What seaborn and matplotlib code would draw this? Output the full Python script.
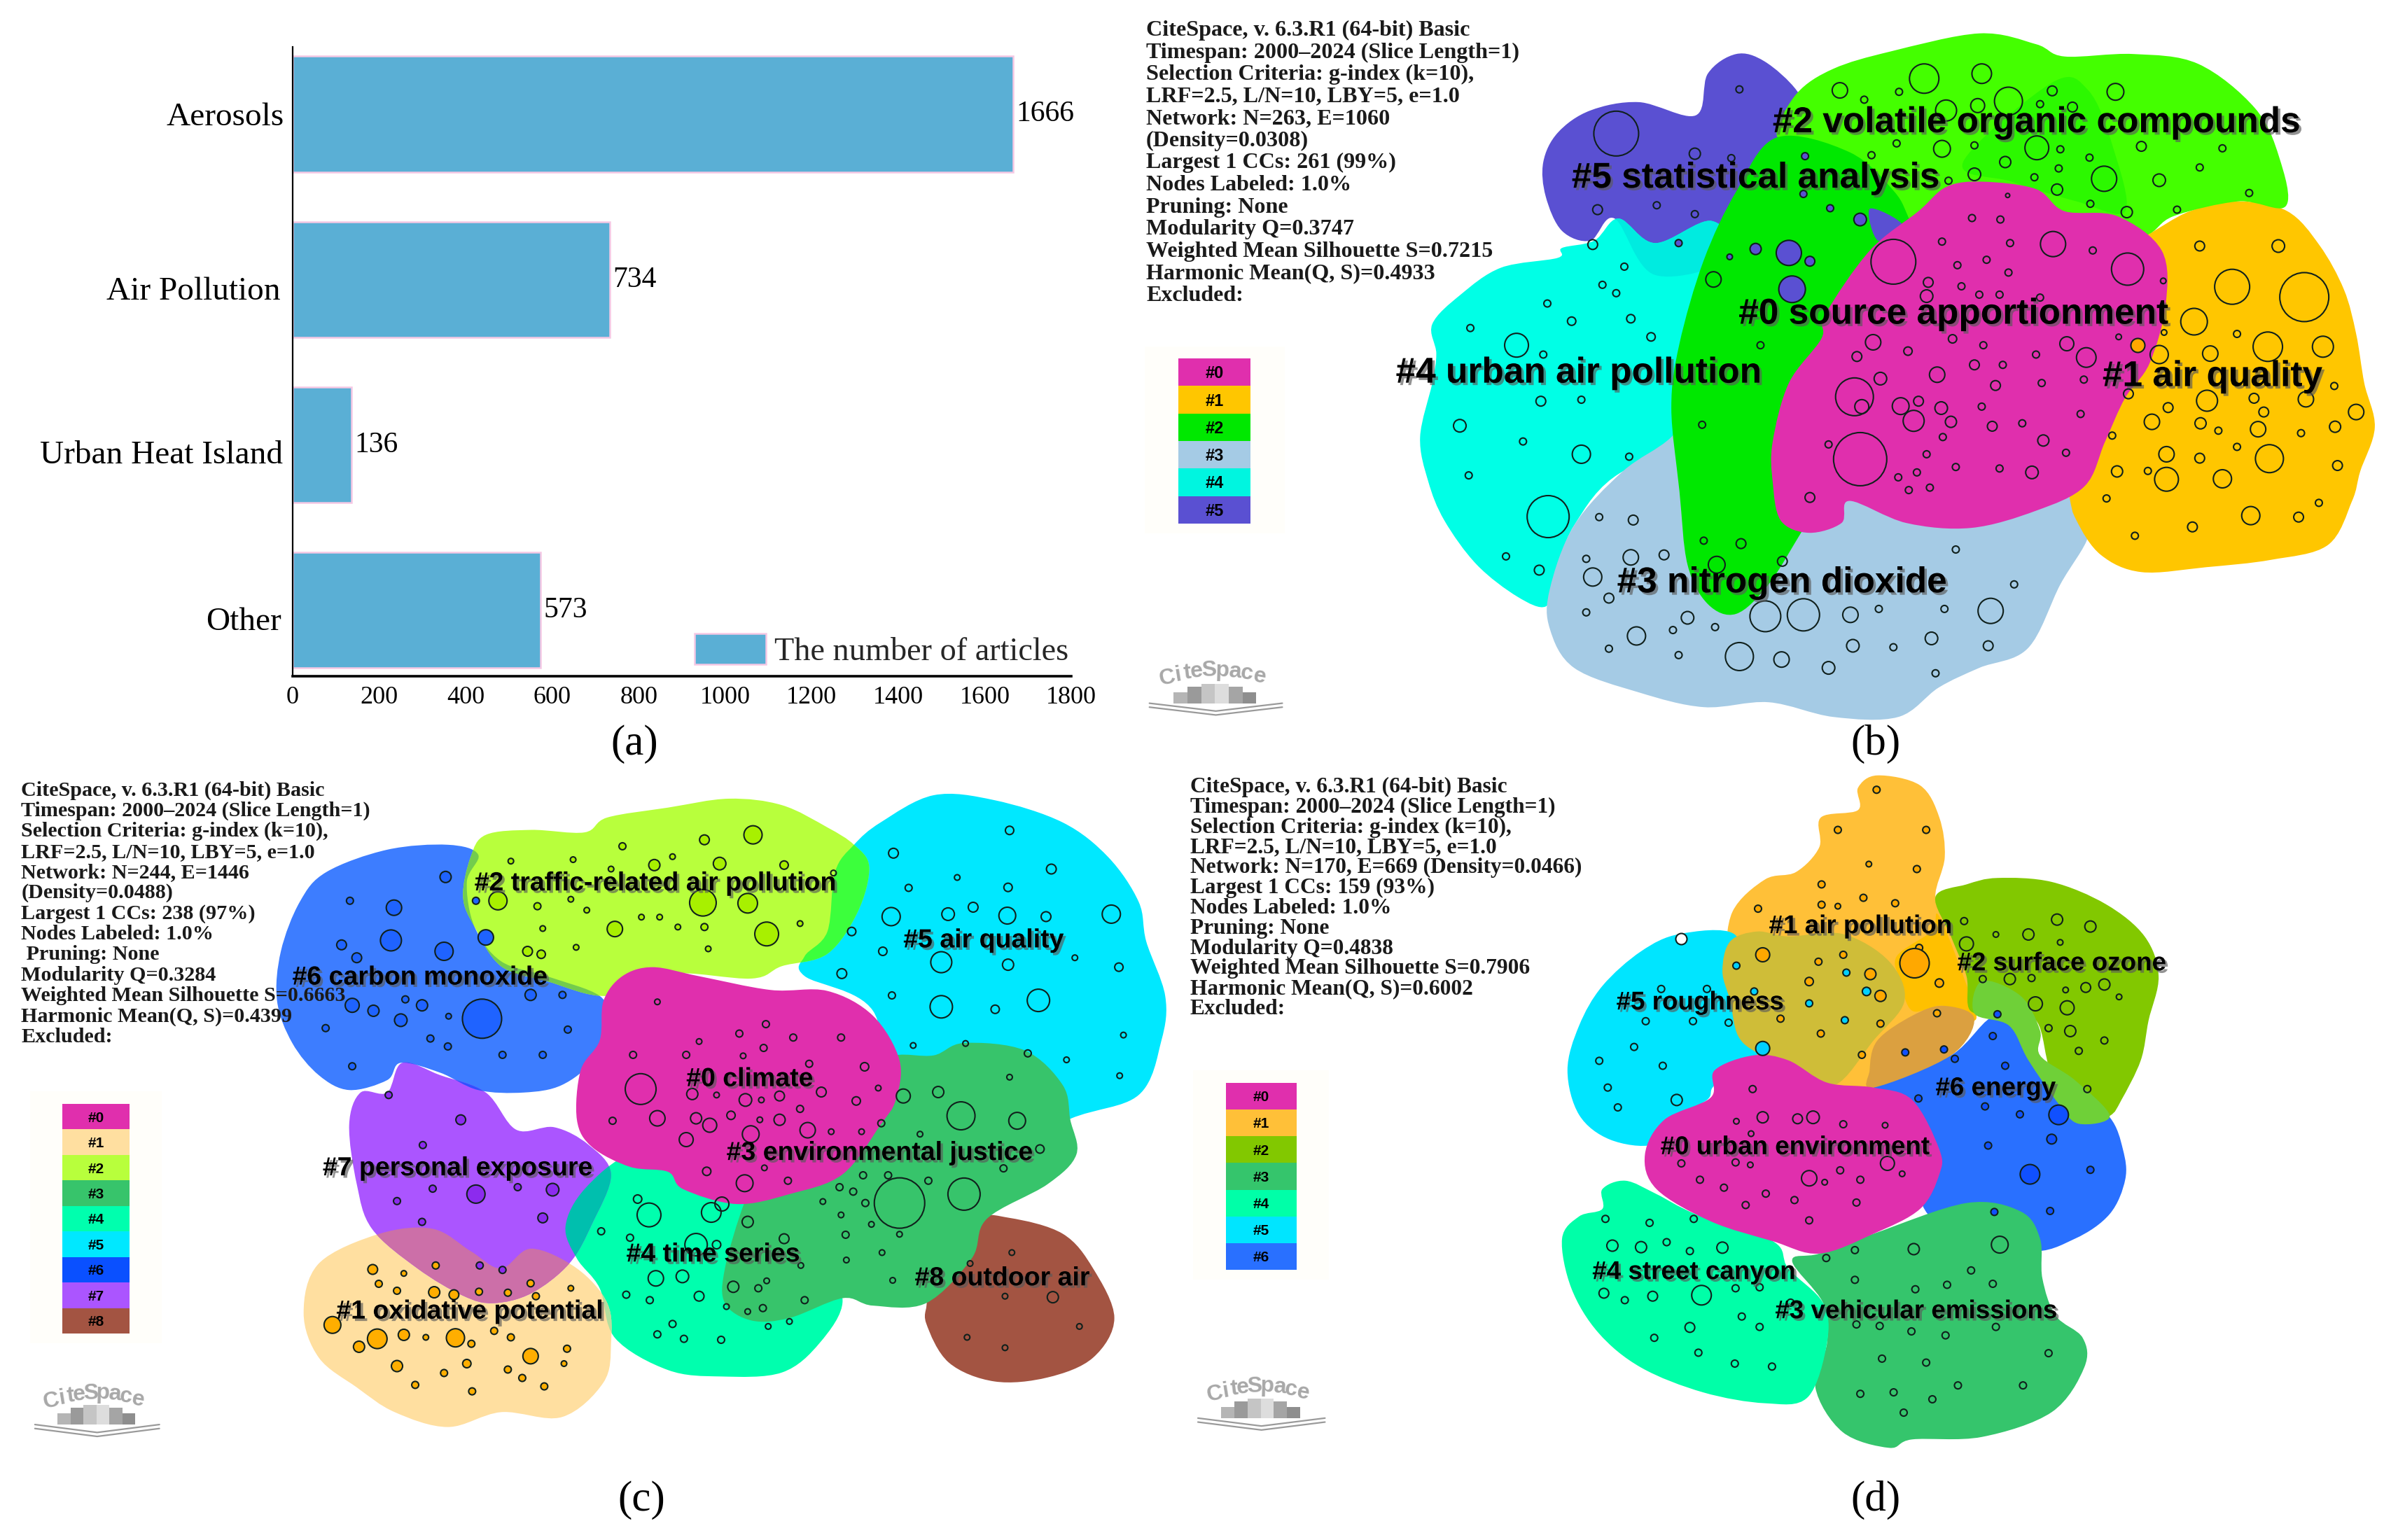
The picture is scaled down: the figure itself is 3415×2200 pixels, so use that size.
import numpy as np
import pandas as pd
import matplotlib
matplotlib.use("Agg")
import matplotlib.pyplot as plt
import matplotlib.patheffects as pe
from matplotlib.patches import PathPatch, Rectangle
from matplotlib.path import Path
from matplotlib.transforms import ScaledTranslation
import seaborn as sns

# ------------------------------
# (a) bar chart
categories = ["Aerosols", "Air Pollution", "Urban Heat Island", "Other"]
articles = [1666, 734, 136, 573]

# ------------------------------
# (b) cluster hulls and nodes as (x, y) and (x, y, radius)
b_hull_0 = [(1065,370),(1130,385),(1165,430),(1230,440),(1285,510),(1290,620),(1270,740),(1240,810),(1215,900),(1190,990),(1130,1040),(1050,1075),(970,1065),(900,1020),(890,1065),(850,1085),(815,1060),(805,980),(805,900),(825,780),(865,690),(870,640),(925,510),(985,430),(1020,380)]
b_hull_1 = [(1380,410),(1440,430),(1480,500),(1510,590),(1525,680),(1535,780),(1548,870),(1530,960),(1520,1020),(1490,1110),(1420,1140),(1340,1155),(1260,1165),(1210,1130),(1180,1060),(1170,1000),(1150,800),(1200,600),(1230,500),(1265,480),(1320,430)]
b_hull_2 = [(1060,68),(1130,90),(1165,115),(1250,110),(1330,130),(1400,220),(1430,320),(1438,420),(1380,410),(1300,440),(1265,480),(1200,500),(1100,500),(1000,520),(960,420),(900,330),(830,290),(810,270),(835,190),(880,140),(950,105)]
b_tint_2 = [(1150,168),(1195,185),(1225,300),(1240,430),(1180,410),(1100,370),(1040,330)]
b_tongue_2 = [(810,280),(900,310),(955,390),(975,450),(1000,520),(930,680),(880,800),(860,950),(850,1060),(840,1085),(800,1190),(760,1250),(725,1230),(700,1150),(690,1000),(680,830),(690,700),(720,530),(760,390)]
b_hull_3 = [(680,890),(720,800),(900,850),(1190,900),(1190,1020),(1195,1090),(1160,1190),(1120,1320),(1060,1360),(1010,1400),(960,1460),(880,1460),(800,1430),(720,1440),(640,1410),(560,1360),(530,1280),(530,1200),(560,1070),(620,960)]
b_hull_4 = [(615,445),(660,495),(730,450),(760,530),(760,700),(750,890),(620,960),(560,1070),(535,1180),(525,1235),(490,1215),(440,1150),(400,1060),(380,980),(370,890),(385,780),(390,720),(385,660),(420,600),(470,545),(540,525),(545,505),(585,490)]
b_hull_5 = [(760,110),(795,125),(835,185),(850,250),(800,300),(780,400),(760,520),(660,560),(610,445),(580,490),(545,470),(525,400),(522,330),(540,270),(580,225),(640,208),(710,235),(725,150)]
b_wedge_5 = [(925,425),(965,458),(935,490)]
b_nodes_0 = [(954,533,32),(1151,497,18),(1243,548,23),(1014,492,5),(1098,495,5),(1200,510,5),(1051,444,5),(1086,447,5),(1095,398,3),(1069,529,5),(1033,540,5),(1096,555,5),(997,575,7),(995,603,9),(1038,583,5),(1060,600,5),(1085,600,5),(1135,606,5),(929,697,11),(972,715,6),(1027,690,6),(1065,703,5),(1168,700,10),(1192,728,14),(909,726,7),(1130,722,5),(1054,743,7),(1089,743,5),(938,771,9),(1008,763,11),(1137,780,5),(1189,773,5),(1080,785,7),(906,808,27),(915,828,10),(963,827,12),(985,817,7),(1013,831,9),(1063,828,5),(979,857,15),(1025,859,8),(1076,868,7),(1113,862,5),(1185,843,5),(1015,890,5),(1139,897,8),(874,905,5),(913,935,38),(1167,922,5),(995,925,5),(1031,951,5),(1085,954,5),(983,962,5),(1125,962,9),(960,972,5),(973,998,5),(999,993,5),(851,1013,7)]
b_nodes_1 = [(1332,501,7),(1429,501,9),(1372,584,25),(1461,605,35),(1287,572,4),(1325,655,19),(1378,680,5),(1416,706,21),(1484,706,15),(1282,722,13),(1345,720,11),(1232,686,4),(1288,677,4),(1498,786,5),(1244,802,7),(1463,813,11),(1341,816,15),(1399,811,7),(1293,830,7),(1411,839,7),(1525,839,11),(1273,859,11),(1333,862,8),(1355,877,5),(1404,874,11),(1499,869,8),(1457,882,5),(1224,887,5),(1291,925,11),(1378,910,5),(1332,933,7),(1418,934,20),(1502,948,7),(1230,960,8),(1268,959,5),(1291,976,17),(1360,975,13),(1217,1015,5),(1479,1024,5),(1395,1050,13),(1454,1053,7),(1323,1073,7),(1252,1091,5)]
b_nodes_2 = [(992,160,21),(1063,150,14),(888,184,11),(918,203,5),(961,187,5),(1096,206,20),(1150,185,7),(1228,187,12),(1019,225,15),(1058,215,10),(1135,212,5),(1175,218,7),(1014,303,12),(958,292,5),(1054,296,5),(1131,301,17),(1160,304,5),(1260,298,7),(1360,302,5),(927,316,5),(1092,330,8),(1196,321,5),(1332,341,5),(1158,343,5),(1128,361,5),(1054,355,9),(1214,364,18),(1282,367,9),(1022,368,5),(1156,386,8),(1393,393,5),(1197,415,5),(1242,432,8),(1304,427,5),(732,569,11),(790,703,5),(718,865,5),(720,1101,5),(766,1107,7),(736,1150,12),(817,1143,7)]
b_nodes_3 = [(591,1053,5),(633,1059,7),(575,1138,5),(630,1135,11),(671,1130,7),(583,1175,13),(603,1218,7),(575,1247,5),(700,1258,9),(682,1283,5),(734,1277,5),(637,1295,13),(796,1255,22),(843,1252,23),(901,1252,11),(936,1240,5),(1017,1240,5),(1074,1244,18),(1103,1190,5),(1031,1119,5),(1001,1300,9),(904,1315,9),(954,1318,5),(1071,1315,7),(603,1321,5),(689,1334,5),(764,1337,20),(816,1343,11),(874,1360,9),(1006,1371,5)]
b_nodes_4 = [(583,498,7),(622,543,5),(595,580,5),(612,597,5),(527,618,5),(557,654,6),(630,649,6),(432,668,5),(655,686,6),(489,703,17),(522,722,5),(519,817,7),(569,814,5),(419,867,9),(497,899,5),(569,925,13),(628,930,5),(430,968,5),(528,1052,30),(476,1133,5),(517,1161,7)]
b_nodes_5 = [(612,272,32),(764,182,5),(709,313,8),(754,322,5),(589,427,7),(662,418,5),(709,436,5)]
b_nodes_5_filled = [(845,318,5),(843,395,5),(876,424,5),(913,447,9),(825,515,18),(784,507,8),(851,532,7),(752,523,4),(829,589,19),(689,495,5)]
b_node_orange = [(1255,703,10)]

# ------------------------------
# (c)
c_hull_0 = [(860,412),(920,430),(1015,458),(1090,460),(1150,510),(1185,600),(1180,680),(1160,730),(1110,830),(1040,870),(970,890),(900,860),(880,825),(830,815),(780,775),(760,720),(765,620),(790,560),(795,480),(820,430)]
c_hull_1 = [(500,950),(570,940),(620,985),(660,1020),(700,980),(760,1020),(800,1090),(805,1170),(795,1250),(740,1320),(660,1310),(590,1340),(520,1310),(470,1260),(420,1200),(400,1110),(420,1010)]
c_hull_2 = [(960,72),(1030,85),(1090,130),(1125,165),(1145,210),(1130,300),(1090,385),(1030,410),(990,435),(880,425),(800,470),(720,440),(660,410),(625,330),(610,270),(620,190),(640,145),(700,135),(770,140),(800,110),(880,90)]
c_hull_3 = [(1270,565),(1350,580),(1400,650),(1410,720),(1418,790),(1380,850),(1300,920),(1280,1000),(1220,1090),(1150,1095),(1110,1080),(1040,1120),(990,1125),(955,1090),(955,1020),(980,890),(1000,840),(1090,760),(1130,680),(1150,620),(1180,590),(1230,590)]
c_hull_4 = [(830,790),(900,800),(950,860),(1050,900),(1080,1000),(1110,1085),(1080,1170),(1030,1230),(950,1238),(880,1225),(810,1160),(790,1060),(760,1000),(745,935),(770,860)]
c_hull_5 = [(1230,65),(1310,75),(1400,120),(1460,190),(1500,280),(1510,360),(1535,470),(1530,560),(1500,670),(1410,718),(1300,800),(1180,700),(1150,500),(1060,430),(1060,390),(1090,340),(1100,220),(1125,165),(1160,120)]
c_hull_6 = [(590,165),(630,185),(615,240),(625,330),(660,400),(720,430),(790,470),(798,520),(780,600),(740,650),(690,665),(630,660),(580,625),(528,605),(510,640),(460,660),(420,630),(385,565),(365,480),(370,380),(395,280),(430,220),(510,175)]
c_hull_7 = [(530,605),(580,630),(640,665),(680,740),(730,735),(775,770),(805,830),(780,930),(750,1010),(700,1070),(650,1090),(610,1075),(550,1020),(490,940),(470,850),(460,730),(475,665),(510,665)]
c_hull_8 = [(1330,918),(1400,950),(1440,1020),(1468,1120),(1440,1200),(1380,1240),(1310,1248),(1250,1210),(1220,1130),(1220,1080),(1200,1000),(1280,920)]
c_nodes_0 = [(866,482,4),(1009,527,5),(974,546,5),(921,562,4),(1045,554,5),(1108,554,5),(1006,575,5),(979,591,4),(834,589,5),(904,589,5),(1066,607,5),(1139,613,6),(844,658,22),(912,668,8),(944,670,4),(982,680,9),(1003,680,4),(1027,672,7),(1082,664,7),(1157,656,4),(1054,698,5),(807,722,5),(866,717,11),(917,717,8),(935,731,10),(963,711,6),(1001,720,4),(1027,720,8),(989,749,12),(1064,741,11),(1095,744,4),(1135,744,4),(904,760,10),(931,824,6),(981,848,12),(1038,843,5),(1007,817,4)]
c_nodes_1 = [(491,1022,7),(532,1030,4),(574,1014,5),(499,1051,5),(523,1065,5),(572,1068,8),(598,1073,7),(631,1067,5),(669,1069,5),(699,1050,5),(752,1060,4),(706,1076,5),(438,1134,12),(497,1162,14),(532,1154,8),(561,1159,4),(600,1160,13),(473,1178,8),(621,1172,5),(651,1146,5),(673,1159,5),(699,1197,11),(747,1182,5),(523,1217,8),(615,1212,6),(669,1224,5),(743,1212,4),(585,1231,5),(688,1241,5),(547,1255,5),(717,1258,5),(622,1268,5)]
c_nodes_2 = [(673,198,4),(755,195,4),(820,168,5),(928,155,7),(992,145,13),(886,189,4),(862,206,8),(948,203,9),(805,214,4),(1033,206,6),(656,278,13),(752,275,4),(708,289,5),(773,297,4),(926,282,19),(985,283,14),(845,311,4),(869,311,4),(810,335,11),(928,331,5),(893,331,4),(1010,345,17),(1054,324,4),(715,334,4),(759,372,4),(933,375,4),(695,380,7),(713,386,6)]
c_nodes_3 = [(1190,672,10),(1236,664,8),(1266,712,20),(1340,722,12),(1330,634,4),(1354,586,5),(1212,749,4),(1161,727,5),(1370,779,6),(1322,818,5),(1137,832,5),(1170,832,5),(1223,843,5),(1185,888,36),(1270,870,23),(1106,856,5),(1124,865,5),(1084,885,4),(1140,888,5),(1108,912,4),(1148,931,4),(1114,952,5),(1185,951,4),(1162,988,4),(1115,1003,4),(1176,1044,4),(1033,960,7),(1055,1014,4),(1010,1045,4),(966,1057,8),(999,1060,5),(1060,1084,5),(1005,1100,5),(985,1107,4),(957,1097,4),(1040,1127,4),(1012,1137,4),(985,926,8),(1128,682,6)]
c_nodes_4 = [(840,880,6),(855,912,17),(937,907,14),(951,890,10),(792,945,5),(917,972,16),(944,972,6),(830,958,5),(864,1040,11),(899,1036,9),(825,1073,5),(856,1084,5),(921,1076,7),(886,1132,5),(866,1153,5),(901,1162,5),(950,1164,5)]
c_nodes_5 = [(1330,136,6),(1177,182,7),(1385,214,7),(1261,231,4),(1197,252,5),(1328,251,6),(1282,291,7),(1174,310,13),(1249,305,9),(1327,308,12),(1378,310,7),(1464,305,13),(1098,222,4),(1122,340,6),(1163,380,6),(1240,402,15),(1328,407,8),(1416,393,4),(1474,412,6),(1109,425,7),(1175,469,5),(1240,492,16),(1311,497,6),(1368,479,16),(1480,549,4),(1203,570,4),(1272,566,4),(1405,599,4),(1475,631,4)]
c_nodes_6 = [(587,230,8),(461,278,5),(519,292,11),(627,278,5),(515,358,15),(450,367,7),(585,380,13),(470,393,7),(640,352,11),(699,468,8),(741,468,5),(464,489,10),(492,500,8),(534,477,5),(556,489,8),(528,519,9),(591,511,4),(635,516,28),(429,535,5),(748,538,5),(567,556,5),(590,572,5),(662,589,5),(715,589,5),(464,612,5)]
c_nodes_7 = [(512,670,5),(607,720,7),(557,771,5),(627,870,13),(728,861,9),(570,859,5),(682,856,5),(523,884,5),(715,918,7),(556,926,5),(632,1014,5),(662,1023,5)]
c_nodes_8 = [(1333,988,4),(1278,1010,4),(1324,1076,4),(1387,1078,8),(1422,1137,4),(1274,1159,4),(1324,1180,4)]

# ------------------------------
# (d)
d_hull_0 = [(745,590),(790,600),(840,645),(900,655),(950,680),(985,780),(985,830),(960,900),(900,950),(830,990),(770,965),(690,925),(620,860),(605,790),(630,720),(690,675),(695,620)]
d_hull_1 = [(905,25),(960,45),(985,110),(992,190),(980,270),(1000,320),(1030,480),(1030,520),(1000,590),(900,655),(850,650),(720,560),(720,450),(710,400),(718,300),(760,235),(800,220),(830,170),(832,110),(880,95),(880,50)]
d_core_1 = [(985,310),(1025,470),(1030,520),(990,490),(950,500),(935,440),(930,390),(975,340)]
d_hull_2 = [(1060,232),(1130,240),(1200,285),(1250,350),(1268,430),(1255,520),(1245,600),(1220,680),(1205,712),(1170,728),(1130,630),(1110,520),(1065,505),(1025,500),(1020,430),(1000,350),(980,270),(1020,245)]
d_band_26 = [(1040,440),(1090,470),(1115,540),(1115,590),(1160,640),(1205,712),(1165,728),(1140,690),(1100,600),(1075,530),(1030,505)]
d_hull_3 = [(1020,888),(1090,905),(1115,960),(1118,1040),(1135,1115),(1170,1160),(1172,1220),(1130,1310),(1040,1360),(950,1365),(920,1382),(860,1350),(825,1260),(840,1170),(835,1090),(795,1005),(830,990),(900,950)]
d_hull_4 = [(580,843),(620,870),(670,910),(770,965),(790,1020),(835,1090),(840,1170),(815,1280),(760,1292),(680,1270),(600,1220),(545,1150),(510,1060),(498,960),(520,915),(550,900),(550,860)]
d_hull_5 = [(650,345),(720,345),(730,430),(750,570),(740,600),(695,650),(685,680),(640,720),(615,770),(560,760),(520,710),(505,620),(520,530),(550,450),(600,380)]
d_band_15 = [(715,360),(750,340),(790,350),(860,345),(920,400),(940,480),(900,560),(850,650),(800,620),(750,585),(725,550),(715,480),(705,420)]
d_hull_6 = [(1060,510),(1110,590),(1160,660),(1205,715),(1222,780),(1225,840),(1205,910),(1160,960),(1100,985),(1000,940),(960,880),(950,720),(900,655),(1000,590)]
d_band_16 = [(1030,515),(1000,590),(900,655),(895,620),(905,560),(950,510),(990,490)]
d_nodes_0 = [(744,658,5),(757,715,8),(802,718,7),(822,715,9),(723,723,4),(861,729,5),(915,731,4),(742,748,4),(652,808,5),(722,806,5),(741,811,4),(918,808,10),(817,838,11),(857,822,5),(837,846,4),(883,841,5),(937,829,4),(676,841,5),(707,857,5),(761,869,5),(735,892,5),(798,882,5),(878,887,5),(817,923,5)]
d_nodes_1 = [(904,54,5),(854,135,5),(968,135,5),(894,204,4),(956,214,5),(833,245,5),(887,272,5),(833,286,5),(854,289,4),(928,283,5),(751,294,5),(959,373,5),(953,404,21),(985,444,6),(757,387,10),(861,387,5),(829,401,5),(896,426,8),(817,441,6),(909,470,8),(780,516,5),(832,546,5),(909,526,5),(885,589,5),(982,505,5)]
d_nodes_2 = [(1017,319,5),(1137,316,8),(1180,330,8),(1058,346,4),(1100,346,8),(1141,362,4),(1020,365,10),(1076,436,8),(1104,434,5),(1041,436,5),(1148,458,4),(1174,453,7),(1198,447,8),(1217,472,4),(1109,486,10),(1150,494,10),(1126,535,5),(1154,541,8),(1198,560,5),(1165,581,5),(1176,658,5)]
d_nodes_3 = [(839,999,5),(876,983,5),(952,981,8),(1063,972,12),(1026,1024,5),(876,1043,5),(995,1053,5),(1054,1051,5),(954,1062,5),(793,1089,5),(878,1133,5),(908,1136,5),(949,1147,5),(993,1155,5),(1058,1138,5),(1126,1191,5),(911,1202,5),(968,1210,5),(1009,1256,5),(1093,1256,5),(883,1273,5),(926,1270,5),(976,1284,5),(939,1311,5)]
d_nodes_4 = [(554,920,5),(611,928,5),(668,920,5),(563,974,8),(600,977,8),(633,967,5),(663,985,5),(705,978,8),(552,1070,7),(579,1084,5),(615,1076,7),(678,1074,14),(722,1060,5),(753,1058,5),(730,1117,5),(753,1138,5),(663,1139,7),(617,1160,5),(674,1190,5),(721,1212,5),(769,1218,5)]
d_nodes_5 = [(626,456,5),(685,456,5),(606,521,5),(667,521,5),(713,524,5),(591,573,5),(546,601,5),(628,611,5),(557,655,5),(646,680,8),(570,695,5)]
d_nodes_5_filled = [(723,409,5),(865,423,5),(891,461,6),(746,461,5),(817,485,5),(863,519,5),(757,576,10)]
d_nodes_6 = [(1060,507,5),(1054,551,5),(1005,597,5),(1070,611,5),(958,677,5),(1044,693,5),(1089,709,5),(1139,710,14),(1130,759,7),(1048,772,5),(1102,830,14),(1180,821,5),(1056,906,5),(1128,904,5),(941,584,5),(991,578,5)]
d_node_white = [(652,354,8)]

# ------------------------------
# labels, text and swatch colours
b_info = ["CiteSpace, v. 6.3.R1 (64-bit) Basic", "Timespan: 2000\u20132024 (Slice Length=1)", "Selection Criteria: g-index (k=10),", "LRF=2.5, L/N=10, LBY=5, e=1.0", "Network: N=263, E=1060", "(Density=0.0308)", "Largest 1 CCs: 261 (99%)", "Nodes Labeled: 1.0%", "Pruning: None", "Modularity Q=0.3747", "Weighted Mean Silhouette S=0.7215", "Harmonic Mean(Q, S)=0.4933", "Excluded:"]
c_info = ["CiteSpace, v. 6.3.R1 (64-bit) Basic", "Timespan: 2000\u20132024 (Slice Length=1)", "Selection Criteria: g-index (k=10),", "LRF=2.5, L/N=10, LBY=5, e=1.0", "Network: N=244, E=1446", "(Density=0.0488)", "Largest 1 CCs: 238 (97%)", "Nodes Labeled: 1.0%", " Pruning: None", "Modularity Q=0.3284", "Weighted Mean Silhouette S=0.6663", "Harmonic Mean(Q, S)=0.4399", "Excluded:"]
d_info = ["CiteSpace, v. 6.3.R1 (64-bit) Basic", "Timespan: 2000\u20132024 (Slice Length=1)", "Selection Criteria: g-index (k=10),", "LRF=2.5, L/N=10, LBY=5, e=1.0", "Network: N=170, E=669 (Density=0.0466)", "Largest 1 CCs: 159 (93%)", "Nodes Labeled: 1.0%", "Pruning: None", "Modularity Q=0.4838", "Weighted Mean Silhouette S=0.7906", "Harmonic Mean(Q, S)=0.6002", "Excluded:"]

b_labels = [("#2 volatile organic compounds", 805, 250), ("#5 statistical analysis", 557, 363), ("#0 source apportionment", 763, 640), ("#4 urban air pollution", 340, 760), ("#1 air quality", 1212, 767), ("#3 nitrogen dioxide", 613, 1187)]
c_labels = [("#2 traffic-related air pollution", 625, 243), ("#5 air quality", 1190, 358), ("#6 carbon monoxide", 385, 433), ("#0 climate", 904, 638), ("#3 environmental justice", 957, 787), ("#7 personal exposure", 425, 818), ("#4 time series", 825, 992), ("#8 outdoor air", 1205, 1040), ("#1 oxidative potential", 443, 1107)]
d_labels = [("#1 air pollution", 765, 330), ("#2 surface ozone", 1008, 405), ("#5 roughness", 568, 484), ("#6 energy", 980, 657), ("#0 urban environment", 625, 776), ("#4 street canyon", 537, 1028), ("#3 vehicular emissions", 773, 1107)]

b_colors = ["#e02fad", "#ffc600", "#00e800", "#a5cbe5", "#00f5e0", "#5a50d2"]
c_colors = ["#e02fad", "#ffdfa0", "#b8ff3c", "#37c46b", "#00ffae", "#00e8ff", "#0a50ff", "#ab55ff", "#a35442"]
d_colors = ["#e02fad", "#ffc038", "#82c800", "#35c56c", "#00ffa8", "#00e5ff", "#2970ff"]

sns.set_theme(style="white")
plt.rcParams["font.family"] = ["Liberation Serif", "DejaVu Serif"]

W, H = 3415, 2200
fig = plt.figure(figsize=(W / 100, H / 100), dpi=100, facecolor="white")


def crop_axes(x, y, w, h):
    # panel axes cover one pixel crop of the figure, data units are 1568 x 1568
    ax = fig.add_axes([x / W, 1 - (y + h) / H, w / W, h / H])
    ax.set_xlim(0, 1568)
    ax.set_ylim(1568, 0)
    ax.axis("off")
    return ax


def hull(ax, pts, color, z, clip=None):
    # closed smooth outline going through the read points
    p = np.array(pts, dtype=float)
    n = len(p)
    verts = [p[0]]
    codes = [Path.MOVETO]
    for i in range(n):
        c1 = p[i] + (p[(i + 1) % n] - p[i - 1]) / 6
        c2 = p[(i + 1) % n] - (p[(i + 2) % n] - p[i]) / 6
        verts += [c1, c2, p[(i + 1) % n]]
        codes += [Path.CURVE4] * 3
    patch = PathPatch(Path(verts, codes), facecolor=color, edgecolor="none", zorder=z)
    ax.add_patch(patch)
    if clip is not None:
        patch.set_clip_path(hull(ax, clip, "none", z))
    return patch


def nodes(ax, pts, face="none", lw=1.5):
    df = pd.DataFrame(pts, columns=["x", "y", "r"])
    sns.scatterplot(data=df, x="x", y="y", s=(df["r"] * 1.44) ** 2, facecolor=face,
                    edgecolor="#10201c", linewidth=lw, legend=False, ax=ax, zorder=50)


def info_block(ax, lines, x, y0, step, size):
    for i, line in enumerate(lines):
        ax.text(x, y0 + i * step, line, fontsize=size, fontweight="bold", color="#1a1a1a",
                va="center", ha="left", zorder=60)


def cluster_labels(ax, labels, size):
    shadow = [pe.SimplePatchShadow(offset=(2.5, -2.5), shadow_rgbFace="#5a5a5a", alpha=0.65), pe.Normal()]
    for text, x, y in labels:
        ax.text(x, y, text, fontsize=size, fontweight="bold", color="black", va="center", ha="left",
                family=["Liberation Sans", "DejaVu Sans"], path_effects=shadow, zorder=70)


def swatches(ax, colors, x0, x1, y0, step, size):
    ax.add_patch(Rectangle((x0 - 42, y0 - 25), x1 - x0 + 84, step * len(colors) + 45, facecolor="#fffefa",
                           edgecolor="none", zorder=1))
    for i, c in enumerate(colors):
        ax.add_patch(Rectangle((x0, y0 + i * step), x1 - x0, step, facecolor=c, edgecolor="none", zorder=2))
        ax.text((x0 + x1) / 2, y0 + (i + 0.55) * step, "#%d" % i, fontsize=size, fontweight="bold", color="black",
                ha="center", va="center", family=["Liberation Sans", "DejaVu Sans"], zorder=3)


def logo(ax, xc, y_text, y_base):
    # letters set one by one along a small arch
    word = "CiteSpace"
    steps = np.array([-60, -46, -35, -24, -9, 8, 23, 38, 54])
    for ch, dx in zip(word, steps):
        ax.text(xc + dx, y_text + (dx / 60) ** 2 * 16, ch, fontsize=23, fontweight="bold", color="#a8a8a8",
                rotation=-dx / 5, ha="center", va="center", family=["Liberation Sans", "DejaVu Sans"], zorder=3)
    bar_h = [22, 34, 40, 40, 34, 22]
    bar_c = ["#b5b5b5", "#9a9a9a", "#c5c5c5", "#dddddd", "#a5a5a5", "#8e8e8e"]
    for i, (hh, c) in enumerate(zip(bar_h, bar_c)):
        ax.add_patch(Rectangle((xc - 52 + i * 17, y_base - hh), 17, hh, facecolor=c, edgecolor="none", zorder=3))
    for dy in (4, 12):
        ax.plot([xc - 82, xc, xc + 82], [y_base + dy - 4, y_base + dy + 12, y_base + dy - 4], color="#9a9a9a", lw=1.6, zorder=3)


# ------------------------------
# (a)
ax_a = fig.add_axes([418 / W, 1 - 966 / H, 1112 / W, 899 / H])
df_a = pd.DataFrame({"category": categories, "articles": articles})
sns.barplot(data=df_a, x="articles", y="category", color="#5aafd5", saturation=1, width=0.7, edgecolor="#f5c8e4",
            linewidth=1.8, label="The number of articles", ax=ax_a)
ax_a.set_xlim(0, 1800)
ax_a.set_ylim(3.40, -0.407)
ax_a.set_xticks(np.arange(0, 1801, 200))
ax_a.set_xlabel("")
ax_a.set_ylabel("")
ax_a.tick_params(axis="x", length=0, pad=10, labelsize=26, colors="black")
ax_a.tick_params(axis="y", length=0, pad=8, labelsize=34, colors="black")
# the category labels sit a little off the bar centres in the original
for lab, dx, dy in zip(ax_a.get_yticklabels(), [-1, -6, -3, -5], [0, 12, 10, 12]):
    lab.set_transform(lab.get_transform() + ScaledTranslation(dx / 100, -dy / 100, fig.dpi_scale_trans))
for side in ["top", "right"]:
    ax_a.spines[side].set_visible(False)
ax_a.spines["left"].set_color("black")
ax_a.spines["left"].set_linewidth(1.6)
ax_a.spines["bottom"].set_color("black")
ax_a.spines["bottom"].set_linewidth(2.6)
ax_a.bar_label(ax_a.containers[0], padding=3, fontsize=30, color="black")
ax_a.legend(loc="lower left", bbox_to_anchor=(0.516, 0.0145), frameon=False, borderpad=0, borderaxespad=0,
            handlelength=2.2, handleheight=1.1, handletextpad=0.28, fontsize=33.3)
fig.text(906 / W, 1 - 1063 / H, "(a)", fontsize=44, color="black", ha="center", va="center")

# ------------------------------
# (b)
ax_b = crop_axes(1600, 0, 1815, 1100)
hull(ax_b, b_hull_5, b_colors[5], 5)
hull(ax_b, b_hull_4, "#00ffe6", 6)
hull(ax_b, b_hull_4, "#00ebe0", 7, clip=b_hull_5)
hull(ax_b, b_hull_3, b_colors[3], 8)
hull(ax_b, b_hull_1, b_colors[1], 9)
hull(ax_b, b_hull_2, "#44ff00", 10)
hull(ax_b, b_tint_2, "#2cf800", 10.5)
hull(ax_b, b_tongue_2, b_colors[2], 11)
hull(ax_b, b_wedge_5, b_colors[5], 11.5)
hull(ax_b, b_hull_0, b_colors[0], 12)
for pts in [b_nodes_0, b_nodes_1, b_nodes_2, b_nodes_3, b_nodes_4, b_nodes_5]:
    nodes(ax_b, pts)
nodes(ax_b, b_nodes_5_filled, face="#5a50d2")
nodes(ax_b, b_node_orange, face="#ffa800")
info_block(ax_b, b_info, 32, 62, 45, 23.1)
cluster_labels(ax_b, b_labels, 37)
swatches(ax_b, b_colors, 72, 161, 730, 56, 17)
logo(ax_b, 118, 1365, 1432)
ax_b.text(932, 1515, "(b)", fontsize=44, color="black", ha="center", va="center", zorder=80)

# ------------------------------
# (c)
ax_c = crop_axes(0, 1090, 1700, 1110)
hull(ax_c, c_hull_6, "#3d7dff", 5)
hull(ax_c, c_hull_5, c_colors[5], 6)
hull(ax_c, c_hull_2, c_colors[2], 7)
hull(ax_c, c_hull_2, "#73cc4d", 8, clip=c_hull_6)
hull(ax_c, c_hull_2, "#3cff3c", 8, clip=c_hull_5)
hull(ax_c, c_hull_8, c_colors[8], 9)
hull(ax_c, c_hull_4, c_colors[4], 10)
hull(ax_c, c_hull_3, c_colors[3], 11)
hull(ax_c, c_hull_1, c_colors[1], 12)
hull(ax_c, c_hull_1, "#b4df9f", 12.5, clip=c_hull_4)
hull(ax_c, c_hull_7, c_colors[7], 13)
hull(ax_c, c_hull_7, "#cc6fa8", 14, clip=c_hull_1)
hull(ax_c, c_hull_7, "#00bfae", 14, clip=c_hull_4)
hull(ax_c, c_hull_7, "#3050ff", 14, clip=c_hull_6)
hull(ax_c, c_hull_0, c_colors[0], 15)
nodes(ax_c, c_nodes_0)
nodes(ax_c, c_nodes_1, face="#ffae00")
nodes(ax_c, c_nodes_2, face="#a8f000")
nodes(ax_c, c_nodes_3)
nodes(ax_c, c_nodes_4)
nodes(ax_c, c_nodes_5)
nodes(ax_c, c_nodes_6, face="#1f63ff")
nodes(ax_c, c_nodes_7, face="#8c2bee")
nodes(ax_c, c_nodes_8)
info_block(ax_c, c_info, 28, 55, 41.5, 21.7)
cluster_labels(ax_c, c_labels, 27)
swatches(ax_c, c_colors, 82, 171, 688, 51.5, 15)
logo(ax_c, 128, 1272, 1335)
ax_c.text(845, 1488, "(c)", fontsize=44, color="black", ha="center", va="center", zorder=80)

# ------------------------------
# (d)
ax_d = crop_axes(1680, 1090, 1735, 1110)
hull(ax_d, d_hull_1, d_colors[1], 5)
hull(ax_d, d_core_1, "#ffc000", 6)
hull(ax_d, d_hull_2, d_colors[2], 7)
hull(ax_d, d_hull_5, d_colors[5], 8)
hull(ax_d, d_band_15, "#cfbd38", 9)
hull(ax_d, d_hull_6, d_colors[6], 10)
hull(ax_d, d_band_16, "#dba040", 11)
hull(ax_d, d_band_26, "#6fd038", 11)
hull(ax_d, d_hull_3, d_colors[3], 12)
hull(ax_d, d_hull_4, d_colors[4], 13)
hull(ax_d, d_hull_0, d_colors[0], 14)
nodes(ax_d, d_nodes_0)
nodes(ax_d, d_nodes_1, face="#ffa800")
nodes(ax_d, d_nodes_2)
nodes(ax_d, d_nodes_3)
nodes(ax_d, d_nodes_4)
nodes(ax_d, d_nodes_5)
nodes(ax_d, d_nodes_5_filled, face="#00d0ff")
nodes(ax_d, d_nodes_6, face="#1050ff")
nodes(ax_d, d_node_white, face="white")
info_block(ax_d, d_info, 18, 49, 40.7, 22.6)
cluster_labels(ax_d, d_labels, 26.5)
swatches(ax_d, d_colors, 64, 155, 645, 54, 15)
logo(ax_d, 110, 1258, 1322)
ax_d.text(903, 1488, "(d)", fontsize=44, color="black", ha="center", va="center", zorder=80)

fig.savefig("out.png", dpi=100, facecolor="white")
